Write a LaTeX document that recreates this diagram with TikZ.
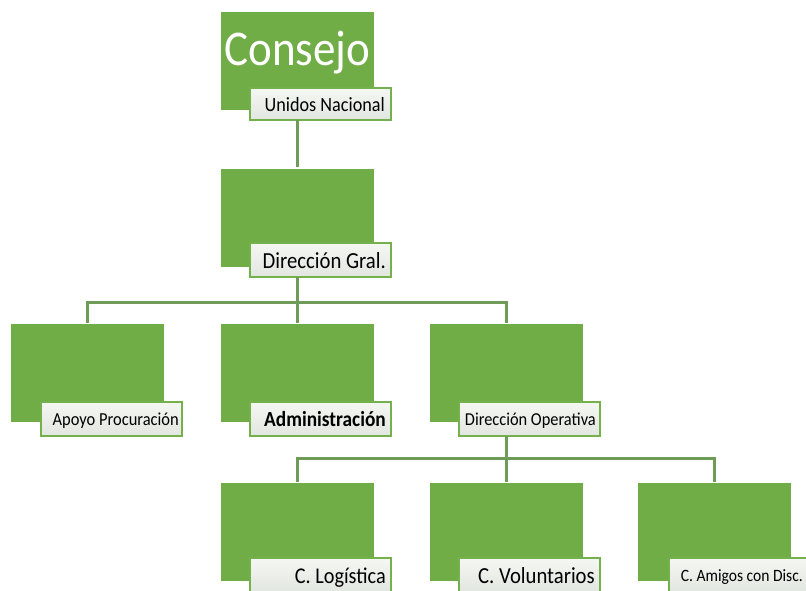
\documentclass[tikz,border=0pt]{standalone}
\usepackage{fontspec}
\usepackage{graphicx}
\setmainfont{Carlito}
\definecolor{boxgreen}{HTML}{70AD47}
\definecolor{conncolor}{HTML}{6E9B57}
\definecolor{lblborder}{HTML}{74B04B}
\definecolor{lbltop}{HTML}{F4F7F2}
\definecolor{lblbot}{HTML}{E2E6E0}
\newcommand{\fsz}[1]{\fontsize{#1}{#1}\selectfont}
\newcommand{\cnd}[1]{\scalebox{0.9}[1]{#1}}
\begin{document}
\begin{tikzpicture}[x=1pt,y=-1pt,
 gbox/.style={fill=boxgreen, draw=none, minimum width=153pt, minimum height=98pt, anchor=north west, inner sep=0pt, outer sep=0pt},
 lbox/.style={top color=lbltop, bottom color=lblbot, draw=lblborder, line width=1.8pt, minimum width=141pt, minimum height=34pt, anchor=north west, inner sep=0pt, outer sep=0pt},
 ltext/.style={anchor=base east, inner sep=0pt, text=black},
 conn/.style={draw=conncolor, line width=3pt}]
\useasboundingbox (0,0) rectangle (806,591);
% connectors
\coordinate (b1) at (297.5,302);
\coordinate (b2) at (506.5,458);
% boxes
\node[gbox] (g1) at (221,12) {};
\node[gbox] (g2) at (221,169) {};
\node[gbox] (g3) at (11,324) {};
\node[gbox] (g4) at (221,324) {};
\node[gbox] (g5) at (430,324) {};
\node[gbox] (g6) at (221,483) {};
\node[gbox] (g7) at (430,483) {};
\node[gbox] (g8) at (638,483) {};
\node[lbox, minimum height=32pt] (l1) at (250,88) {};
\node[lbox] (l2) at (250,243) {};
\node[lbox] (l3) at (41,402) {};
\node[lbox] (l4) at (250,402) {};
\node[lbox] (l5) at (459,402) {};
\node[lbox] (l6) at (250,558) {};
\node[lbox] (l7) at (459,558) {};
\node[lbox] (l8) at (669,558) {};
\draw[conn, shorten >=2pt] (g1.center |- l1.south) -- (g2.north);
\draw[conn] (g2.center |- l2.south) -- (b1);
\draw[conn, shorten >=1.5pt] (b1) -- (g4.north);
\draw[conn, shorten <=1.5pt, shorten >=1.5pt] (g3.north) |- (b1) -| (g5.north);
\draw[conn] (g5.center |- l5.south) -- (b2);
\draw[conn, shorten >=1.5pt] (b2) -- (g7.north);
\draw[conn, shorten <=1.5pt, shorten >=1.5pt] (g6.north) |- (b2) -| (g8.north);
% texts
\node[anchor=base, inner sep=0pt, text=white, font=\fsz{50}] (t0) at (297.5,66) {\cnd{Consejo}};
\node[ltext, font=\fsz{20.2}] (t1) at ([xshift=-6pt,yshift=-7.5pt]l1.east) {\cnd{Unidos Nacional}};
\node[ltext, font=\fsz{23}] (t2) at ([xshift=-5pt,yshift=-8pt]l2.east) {\cnd{Dirección Gral.}};
\node[ltext, font=\fsz{18.3}] (t3) at ([xshift=-3pt,yshift=-6.5pt]l3.east) {\cnd{Apoyo Procuración}};
\node[ltext, font=\bfseries\fsz{21.5}] (t4) at ([xshift=-5pt,yshift=-7.5pt]l4.east) {\cnd{Administración}};
\node[ltext, font=\fsz{18.2}] (t5) at ([xshift=-4pt,yshift=-6.5pt]l5.east) {\cnd{Dirección Operativa}};
\node[ltext, font=\fsz{22.5}] (t6) at ([xshift=-5pt,yshift=-8pt]l6.east) {\cnd{C. Logística}};
\node[ltext, font=\fsz{23}] (t7) at ([xshift=-5pt,yshift=-8pt]l7.east) {\cnd{C. Voluntarios}};
\node[ltext, font=\fsz{17.3}] (t8) at ([xshift=-7pt,yshift=-6.5pt]l8.east) {\cnd{C. Amigos con Disc.}};
\end{tikzpicture}
\end{document}
